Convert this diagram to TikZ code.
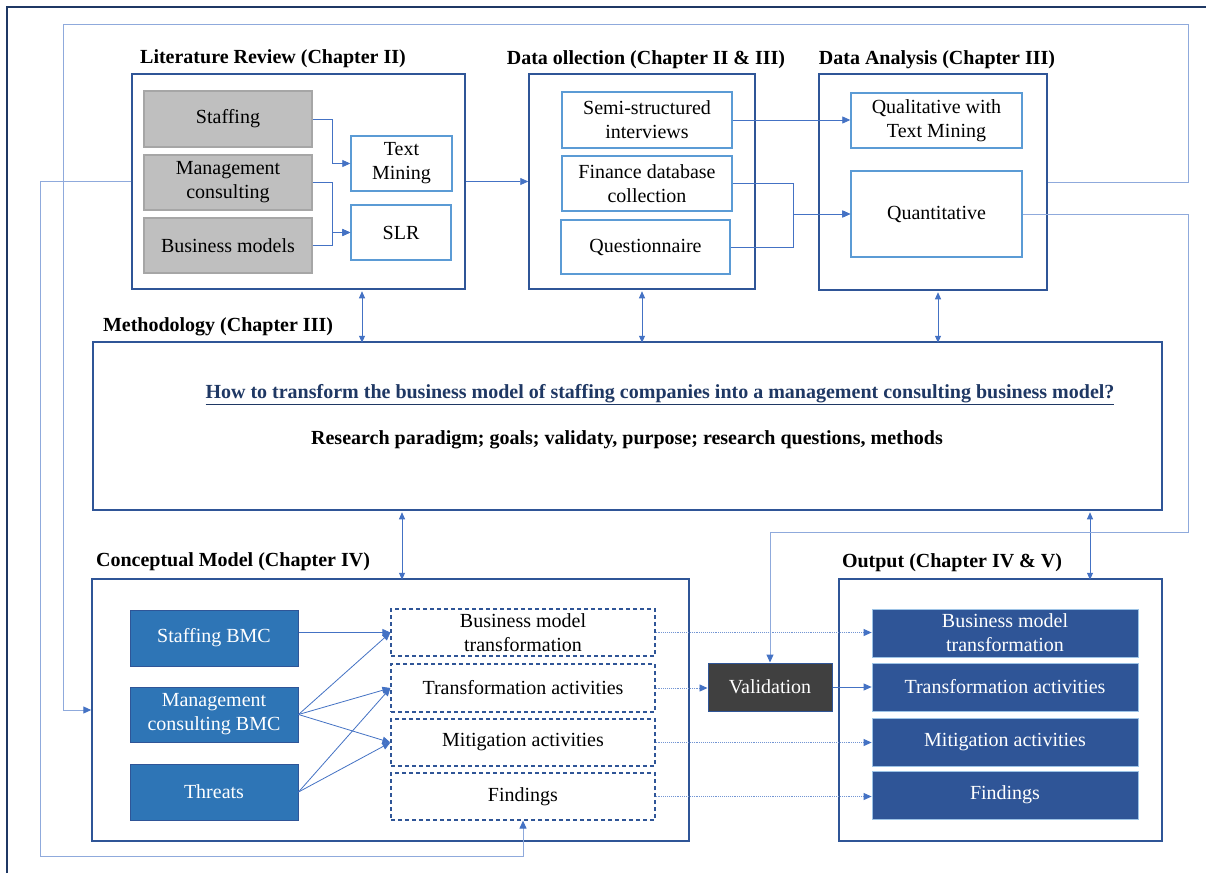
\documentclass[tikz,border=0pt]{standalone}
\usepackage{fontspec}
\setmainfont{Liberation Serif}
\usetikzlibrary{arrows.meta}
\definecolor{navy}{HTML}{1F3864}
\definecolor{grpblue}{HTML}{2F5597}
\definecolor{inblue}{HTML}{5B9BD5}
\definecolor{conn}{HTML}{4472C4}
\definecolor{loopc}{HTML}{8FAADC}
\definecolor{grayfill}{HTML}{BFBFBF}
\definecolor{grayedge}{HTML}{A6A6A6}
\definecolor{bmcfill}{HTML}{2E75B6}
\definecolor{outfill}{HTML}{2F5597}
\definecolor{valfill}{HTML}{404040}
\begin{document}
\begin{tikzpicture}[x=1pt,y=-1pt,
  txt/.style={font=\fontsize{20}{24}\selectfont, align=center, inner sep=0pt},
  grptitle/.style={font=\bfseries\fontsize{20}{24}\selectfont, inner sep=0pt},
  grp/.style={draw=grpblue, line width=1.5pt, fill=white, inner sep=0pt},
  inbox/.style={txt, draw=inblue, line width=1.4pt, fill=white},
  graybox/.style={txt, draw=grayedge, fill=grayfill, line width=1.4pt},
  bmcbox/.style={txt, draw=grpblue, fill=bmcfill, text=white, line width=1pt},
  dashbox/.style={txt, draw=grpblue, dashed, dash pattern=on 4pt off 3pt, line width=1.2pt},
  outbox/.style={txt, draw=inblue!60!white, fill=outfill, text=white, line width=0.8pt},
  valbox/.style={txt, draw=grpblue, fill=valfill, text=white, line width=1pt},
  tip/.style={-{Triangle[length=8pt,width=7pt,color=conn]}},
  conn/.style={draw=conn, line width=0.8pt, tip},
  loopline/.style={draw=loopc, line width=1pt, tip},
  dotconn/.style={draw=conn!75!white, line width=0.9pt, densely dotted, tip},
  bidir/.style={draw=conn, line width=0.8pt,
    {Triangle[length=7pt,width=6pt]}-{Triangle[length=7pt,width=6pt]}}
]
\useasboundingbox (0,0) rectangle (1206,873);
\fill[white] (0,0) rectangle (1206,873);
% frame
\draw[navy, line width=1.5pt] (7,873) -- (7,7) -- (1206,7);

% ---------- Literature review ----------
\node[grptitle] (littitle) at (273,59) {Literature Review (Chapter II)};
\node[grp, minimum width=333, minimum height=215] (litbox) at (298.5,181.5) {};
\node[graybox, minimum width=168, minimum height=56] (staff) at (228,119) {Staffing};
\node[graybox, minimum width=168, minimum height=55] (mcons) at (228,182.5) {Management\\consulting};
\node[graybox, minimum width=168, minimum height=55] (bmod) at (228,245.5) {Business models};
\node[inbox, minimum width=101, minimum height=55] (tmin) at (401.5,163.5) {Text\\Mining};
\node[inbox, minimum width=100, minimum height=55] (slr) at (401,232.5) {SLR};

% ---------- Data collection ----------
\node[grptitle] (dctitle) at (646,60) {Data ollection (Chapter II \& III)};
\node[grp, minimum width=226, minimum height=215] (dcbox) at (642,181.5) {};
\node[inbox, minimum width=170, minimum height=56] (semi) at (647,120) {Semi-structured\\interviews};
\node[inbox, minimum width=170, minimum height=55] (fin) at (647,183.5) {Finance database\\collection};
\node[inbox, minimum width=169, minimum height=54] (quest) at (645.5,247) {Questionnaire};

% ---------- Data analysis ----------
\node[grptitle] (datitle) at (937,60) {Data Analysis (Chapter III)};
\node[grp, minimum width=228, minimum height=216] (dabox) at (933,182) {};
\node[inbox, minimum width=171, minimum height=55] (qual) at (936.5,120.5) {Qualitative with\\Text Mining};
\node[inbox, minimum width=171, minimum height=86] (quant) at (936.5,214) {Quantitative};

% ---------- Methodology ----------
\node[grptitle] (methtitle) at (218,327) {Methodology (Chapter III)};
\node[grp, minimum width=1069, minimum height=168] (meth) at (627.5,426) {};
\node[grptitle, text=navy] (rq) at (660,395) {\underline{How to transform the business model of staffing companies into a management consulting business model?}};
\node[grptitle] (rp) at (627,440) {Research paradigm; goals; validaty, purpose; research questions, methods};

% ---------- Conceptual model ----------
\node[grptitle] (cmtitle) at (233,562) {Conceptual Model (Chapter IV)};
\node[grp, minimum width=597, minimum height=262] (cmbox) at (390.5,710) {};
\node[bmcbox, minimum width=168, minimum height=56] (sbmc) at (214,638) {Staffing BMC};
\node[bmcbox, minimum width=168, minimum height=55] (mbmc) at (214,714.5) {Management\\consulting BMC};
\node[bmcbox, minimum width=168, minimum height=56] (thr) at (214,792) {Threats};
\node[dashbox, minimum width=264, minimum height=47] (dbmt) at (523,632.5) {Business model\\transformation};
\node[dashbox, minimum width=264, minimum height=48] (dta) at (523,688) {Transformation activities};
\node[dashbox, minimum width=264, minimum height=47] (dma) at (523,742.5) {Mitigation activities};
\node[dashbox, minimum width=264, minimum height=47] (dfind) at (523,796.5) {Findings};

\node[valbox, minimum width=124, minimum height=48] (val) at (770,687) {Validation};

% ---------- Output ----------
\node[grptitle] (outtitle) at (952,563) {Output (Chapter IV \& V)};
\node[grp, minimum width=323, minimum height=262] (outb) at (1000.5,710) {};
\node[outbox, minimum width=266, minimum height=48] (obmt) at (1005,633) {Business model\\transformation};
\node[outbox, minimum width=266, minimum height=48] (ota) at (1005,687) {Transformation activities};
\node[outbox, minimum width=266, minimum height=48] (oma) at (1005,742) {Mitigation activities};
\node[outbox, minimum width=266, minimum height=48] (ofind) at (1005,795) {Findings};

% ---------- connectors ----------
\draw[conn] (staff.east) -- ++(20,0) |- (tmin.west);
\draw[conn] (mcons.east) -- ++(20,0) |- (slr.west);
\draw[conn] (bmod.east) -- ++(20,0) |- (slr.west);
\draw[conn] (litbox.east) -- (dcbox.west);
\draw[conn] (semi.east) -- (semi.east -| qual.west);
\draw[conn] (fin.east) -- ++(61,0) |- (quant.west);
\draw[conn] (quest.east) -- ++(63,0) |- (quant.west);

\coordinate (xa) at (362,0);
\coordinate (xb) at (642,0);
\coordinate (xc) at (938,0);
\coordinate (xd) at (402,0);
\coordinate (xe) at (1090,0);
\draw[bidir] (litbox.south -| xa) ++(0,1.5) -- ([yshift=-1.5pt]meth.north -| xa);
\draw[bidir] (dcbox.south -| xb) ++(0,1.5) -- ([yshift=-1.5pt]meth.north -| xb);
\draw[bidir] (dabox.south -| xc) ++(0,1.5) -- ([yshift=-1.5pt]meth.north -| xc);
\draw[bidir] (meth.south -| xd) ++(0,1.5) -- ([yshift=-1.5pt]cmbox.north -| xd);
\draw[bidir] (meth.south -| xe) ++(0,1.5) -- ([yshift=-1.5pt]outb.north -| xe);

\draw[conn] (dbmt.west -| sbmc.east) -- (dbmt.west);
\draw[conn] (mbmc.east) -- (dbmt.west);
\draw[conn] (mbmc.east) -- (dta.west);
\draw[conn] (mbmc.east) -- (dma.west);
\draw[conn] (thr.east) -- (dta.west);
\draw[conn] (thr.east) -- (dma.west);

\draw[dotconn] (dbmt.east) -- (dbmt.east -| obmt.west);
\draw[dotconn] (dta.east) -- (dta.east -| val.west);
\draw[conn] (val.east) -- (val.east -| ota.west);
\draw[dotconn] (dma.east) -- (dma.east -| oma.west);
\draw[dotconn] (dfind.east) -- (dfind.east -| ofind.west);

% feedback loops
\coordinate (ctop) at (1188,24);
\coordinate (cleft) at (63,24);
\coordinate (cbot) at (40,856);
\coordinate (cval) at (1188,532);
\draw[loopline] (dabox.east) -| (ctop) -- (cleft) |- (cmbox.west);
\draw[loopline] (litbox.west) -| (cbot) -| (dfind.south);
\draw[loopline] (quant.east) -| (cval) -| (val.north);
\end{tikzpicture}
\end{document}
